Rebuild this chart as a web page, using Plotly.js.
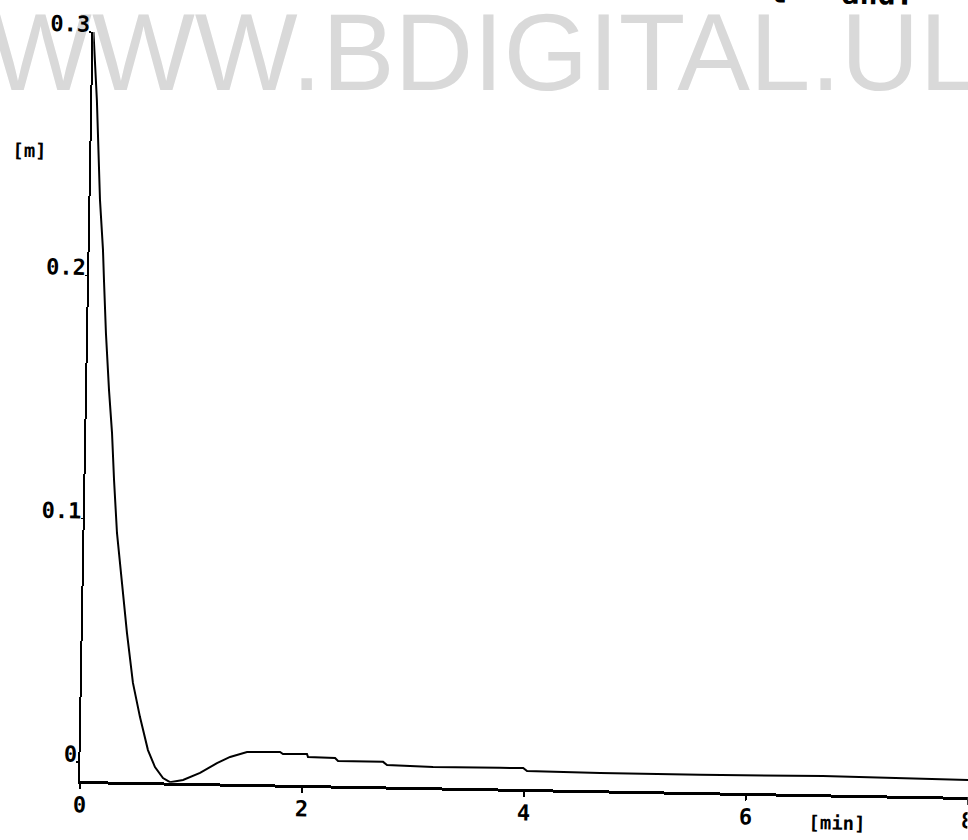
<!DOCTYPE html>
<html>
<head>
<meta charset="utf-8">
<script src="https://cdn.plot.ly/plotly-3.0.1.min.js"></script>
<style>
  html, body { margin: 0; padding: 0; background: #ffffff; width: 968px; height: 840px; overflow: hidden; }
  #wm { position: absolute; left: -11px; top: -2px; z-index: 0; font-family: "Liberation Sans", Arial, sans-serif;
        font-size: 109px; line-height: 1; color: #d9d9d9; white-space: nowrap; }
  #chart { position: absolute; left: 0; top: -20px; width: 968px; height: 860px; z-index: 1;
           transform-origin: 80px 801px; transform: rotate(1.03deg); }
</style>
</head>
<body>
<div id="wm">WWW.BDIGITAL.UL</div>
<div id="chart"></div>
<script>
// time in minutes
const timeMin = [0, 0.042, 0.086, 0.121, 0.135, 0.161, 0.198, 0.232, 0.258, 0.281, 0.293, 0.346, 0.399,
  0.461, 0.530, 0.607, 0.673, 0.747, 0.811, 0.928, 1.080, 1.231, 1.348, 1.500, 1.797, 1.824, 2.04, 2.05,
  2.294, 2.321, 2.727, 2.763, 3.178, 3.78, 3.99, 4.025, 4.684, 5.585, 6.69, 8.0];
// level in metres
const levelM = [0.300, 0.272, 0.231, 0.2106, 0.198, 0.1765, 0.153, 0.1355, 0.116, 0.101, 0.0944, 0.0739, 0.0534,
  0.0329, 0.0189, 0.0054, -0.0015, -0.0060, -0.0076, -0.0066, -0.0036, 0.0006, 0.0032, 0.0053, 0.0056, 0.0048, 0.0050, 0.0037,
  0.0035, 0.0023, 0.0023, 0.0010, 0.0006, 0.0007, 0.0008, -0.0004, -0.0007, -0.0007, -0.0003, -0.0008];

const xTickVals = [0, 2, 4, 6, 8];
const xTickText = ['0', '2', '4', '6', '8'];
const yTickVals = [0, 0.1, 0.2, 0.3];
const yTickText = ['0', '0.1', '0.2', '0.3'];

const yLabel = '[m]';
const xLabel = '[min]';
const topText = 't = and.';

const monoFont = {family: '"DejaVu Sans Mono", monospace', size: 22, color: '#000', weight: 'bold'};

const trace = {
  x: timeMin, y: levelM, type: 'scatter', mode: 'lines',
  line: {color: '#000', width: 2}, hoverinfo: 'skip'
};

const layout = {
  width: 968, height: 860,
  margin: {l: 80, r: 0, t: 52, b: 59, pad: 0},
  paper_bgcolor: 'rgba(0,0,0,0)', plot_bgcolor: 'rgba(0,0,0,0)',
  showlegend: false,
  xaxis: {
    range: [0, 8], tickmode: 'array', tickvals: xTickVals, ticktext: xTickText,
    ticks: 'outside', ticklen: 5, tickwidth: 1.5, tickcolor: '#000',
    showline: true, linecolor: '#000', linewidth: 3, showgrid: false, zeroline: false,
    tickfont: monoFont, automargin: false, ticklabelstandoff: -3, ticklabeloverflow: 'allow'
  },
  yaxis: {
    range: [-0.0078, 0.3], tickmode: 'array', tickvals: yTickVals, ticktext: yTickText,
    ticks: 'outside', ticklen: 2, tickwidth: 1.5, tickcolor: '#000',
    showline: true, linecolor: '#000', linewidth: 2, showgrid: false, zeroline: false,
    tickfont: monoFont, automargin: false, ticklabelshift: -8, ticklabelstandoff: -5,
    ticklabeloverflow: 'allow'
  },
  annotations: [
    {text: yLabel, xref: 'paper', yref: 'paper', x: -0.0702, y: 0.841, xanchor: 'center', yanchor: 'middle',
     showarrow: false, font: {family: '"DejaVu Sans Mono", monospace', size: 19, color: '#000', weight: 'bold'}},
    {text: xLabel, xref: 'paper', yref: 'paper', x: 0.853, y: -0.0379, xanchor: 'center', yanchor: 'middle',
     showarrow: false, font: {family: '"DejaVu Sans Mono", monospace', size: 19, color: '#000', weight: 'bold'}},
    {text: topText, xref: 'paper', yref: 'paper', x: 0.842, y: 1.070, xanchor: 'center', yanchor: 'middle',
     showarrow: false, font: {family: '"DejaVu Sans Mono", monospace', size: 30, color: '#000', weight: 'bold'}}
  ]
};

Plotly.newPlot('chart', [trace], layout, {staticPlot: true, displayModeBar: false});
</script>
</body>
</html>
